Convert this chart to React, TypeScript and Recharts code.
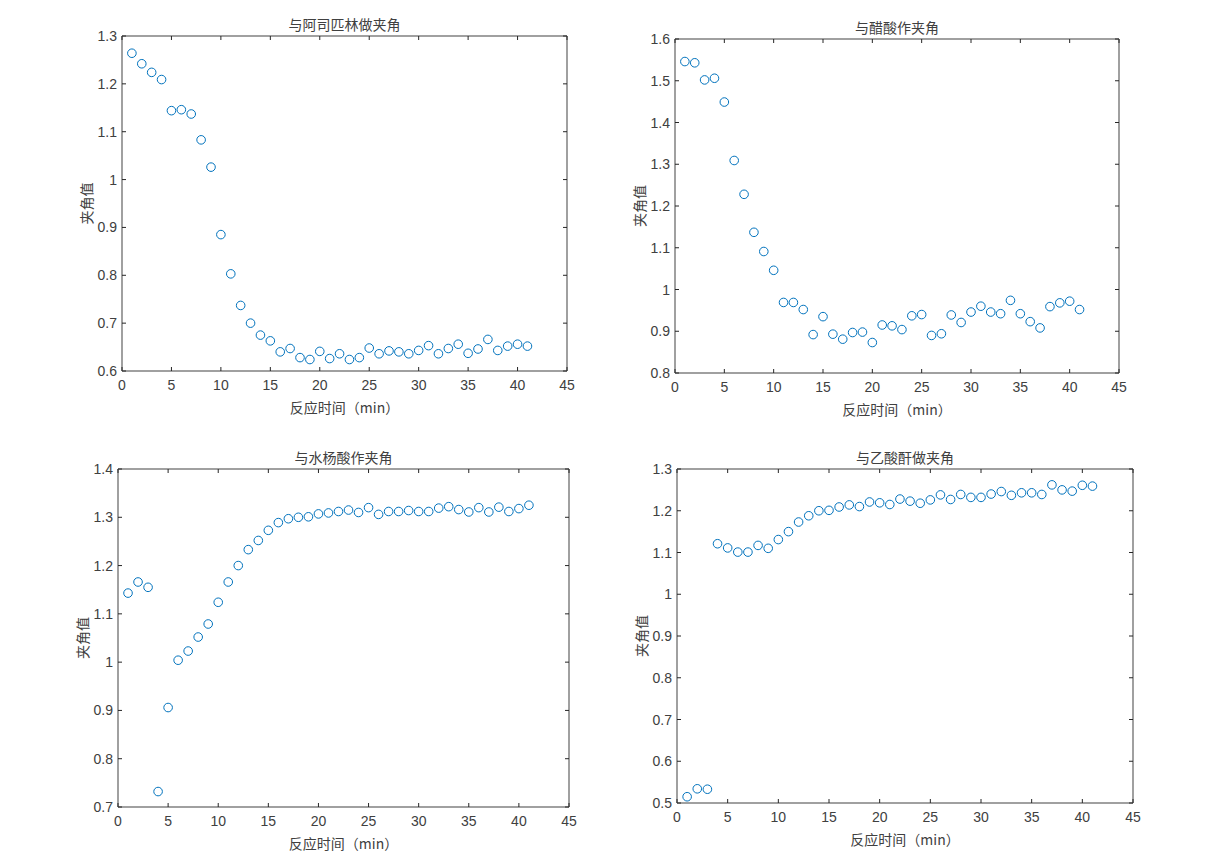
import { ScatterChart, Scatter, XAxis, YAxis, Label } from 'recharts';

const minutes = [1, 2, 3, 4, 5, 6, 7, 8, 9, 10, 11, 12, 13, 14, 15, 16, 17, 18, 19, 20, 21, 22, 23, 24, 25, 26, 27, 28, 29, 30, 31, 32, 33, 34, 35, 36, 37, 38, 39, 40, 41];
const xTicks = [0, 5, 10, 15, 20, 25, 30, 35, 40, 45];

// 与阿司匹林做夹角
const aspirin = [1.264, 1.242, 1.224, 1.209, 1.144, 1.146, 1.137, 1.083, 1.026, 0.885, 0.803, 0.737, 0.700, 0.675, 0.663, 0.640, 0.647, 0.628, 0.624, 0.641, 0.626, 0.636, 0.624, 0.628, 0.648, 0.636, 0.642, 0.640, 0.636, 0.643, 0.653, 0.636, 0.647, 0.656, 0.637, 0.646, 0.666, 0.643, 0.652, 0.656, 0.652];
const aspirinTicks = [0.6, 0.7, 0.8, 0.9, 1, 1.1, 1.2, 1.3];

// 与醋酸作夹角
const acetic = [1.546, 1.543, 1.502, 1.506, 1.449, 1.309, 1.228, 1.137, 1.091, 1.046, 0.969, 0.969, 0.952, 0.892, 0.935, 0.893, 0.881, 0.897, 0.898, 0.873, 0.915, 0.913, 0.904, 0.937, 0.940, 0.890, 0.894, 0.939, 0.921, 0.946, 0.960, 0.946, 0.942, 0.974, 0.942, 0.923, 0.908, 0.959, 0.968, 0.972, 0.952];
const aceticTicks = [0.8, 0.9, 1, 1.1, 1.2, 1.3, 1.4, 1.5, 1.6];

// 与水杨酸作夹角
const salicylic = [1.143, 1.166, 1.155, 0.732, 0.906, 1.004, 1.023, 1.052, 1.079, 1.124, 1.166, 1.200, 1.233, 1.252, 1.273, 1.289, 1.297, 1.300, 1.301, 1.307, 1.309, 1.312, 1.315, 1.310, 1.320, 1.306, 1.312, 1.312, 1.314, 1.312, 1.312, 1.319, 1.322, 1.316, 1.311, 1.320, 1.311, 1.321, 1.312, 1.318, 1.325];
const salicylicTicks = [0.7, 0.8, 0.9, 1, 1.1, 1.2, 1.3, 1.4];

// 与乙酸酐做夹角
const anhydride = [0.515, 0.534, 0.533, 1.121, 1.111, 1.101, 1.101, 1.117, 1.110, 1.131, 1.150, 1.173, 1.188, 1.200, 1.201, 1.209, 1.214, 1.210, 1.221, 1.219, 1.215, 1.228, 1.223, 1.218, 1.226, 1.238, 1.227, 1.239, 1.232, 1.232, 1.240, 1.246, 1.237, 1.243, 1.243, 1.239, 1.262, 1.250, 1.247, 1.261, 1.259];
const anhydrideTicks = [0.5, 0.6, 0.7, 0.8, 0.9, 1, 1.1, 1.2, 1.3];

const AXIS = '#808080';
const TICK = '#262626';
const TEXT = '#404040';
const NUM_FONT = '"Liberation Sans", Arial, sans-serif';
const CJK_FONT = '"Noto Sans CJK SC", sans-serif';
const MARKER = '#0072BD';

const ML = 70;
const MT = 30;
const MR = 10;
const MB = 50;

const BottomTick = (p: any) => (
  <g>
    <line x1={p.x} x2={p.x} y1={p.y} y2={p.y - 4} stroke={TICK} strokeWidth={1} />
    <text x={p.x} y={p.y + 19} textAnchor="middle" fill={TEXT} fontSize={14} fontFamily={NUM_FONT}>
      {p.payload.value}
    </text>
  </g>
);

const TopTick = (p: any) => (
  <line x1={p.x} x2={p.x} y1={p.y} y2={p.y + 4} stroke={TICK} strokeWidth={1} />
);

const LeftTick = (p: any) => (
  <g>
    <line x1={p.x} x2={p.x + 4} y1={p.y} y2={p.y} stroke={TICK} strokeWidth={1} />
    <text x={p.x - 5} y={p.y + 5} textAnchor="end" fill={TEXT} fontSize={14} fontFamily={NUM_FONT}>
      {String(p.payload.value)}
    </text>
  </g>
);

const RightTick = (p: any) => (
  <line x1={p.x} x2={p.x - 4} y1={p.y} y2={p.y} stroke={TICK} strokeWidth={1} />
);

interface PanelProps {
  left: number;
  top: number;
  plotW: number;
  plotH: number;
  title: string;
  values: number[];
  yTicks: number[];
}

function Panel({ left, top, plotW, plotH, title, values, yTicks }: PanelProps) {
  const data = minutes.map((m, i) => ({ x: m, y: values[i] }));
  const yDomain = [yTicks[0], yTicks[yTicks.length - 1]];

  return (
    <div style={{ position: 'absolute', left: left - ML, top: top - MT - 1 }}>
      <ScatterChart width={plotW + ML + MR + 1} height={plotH + MT + MB + 1} margin={{ top: MT, right: MR, left: 0, bottom: 0 }}>
        <XAxis
          xAxisId="b"
          type="number"
          dataKey="x"
          domain={[0, 45]}
          ticks={xTicks}
          height={MB}
          stroke={AXIS}
          strokeWidth={1.5}
          tickLine={false}
          tickSize={0}
          tickMargin={0}
          tick={BottomTick}
          interval={0}
        >
          <Label
            value="反应时间（min）"
            position="insideBottom"
            offset={8}
            fill={TEXT}
            fontSize={14}
            fontFamily={CJK_FONT}
          />
        </XAxis>
        <XAxis
          xAxisId="t"
          orientation="top"
          type="number"
          dataKey="x"
          domain={[0, 45]}
          ticks={xTicks}
          height={1}
          stroke={AXIS}
          strokeWidth={1.5}
          tickLine={false}
          tickSize={0}
          tickMargin={0}
          tick={TopTick}
          interval={0}
        >
          <Label
            value={title}
            position="top"
            offset={5}
            fill={TEXT}
            fontSize={14}
            fontWeight={400}
            fontFamily={CJK_FONT}
          />
        </XAxis>
        <YAxis
          yAxisId="l"
          type="number"
          dataKey="y"
          domain={yDomain}
          ticks={yTicks}
          width={ML}
          stroke={AXIS}
          strokeWidth={1.5}
          tickLine={false}
          tickSize={0}
          tickMargin={0}
          tick={LeftTick}
          interval={0}
          allowDataOverflow
        >
          <Label
            content={(lp: any) => {
              const vb = lp.viewBox;
              const cx = vb.x + vb.width - 36;
              const cy = vb.y + vb.height / 2;
              return (
                <text
                  x={cx}
                  y={cy}
                  transform={`rotate(-90, ${cx}, ${cy})`}
                  textAnchor="middle"
                  dominantBaseline="central"
                  fill={TEXT}
                  fontSize={14}
                  fontFamily={CJK_FONT}
                >
                  夹角值
                </text>
              );
            }}
          />
        </YAxis>
        <YAxis
          yAxisId="r"
          orientation="right"
          type="number"
          dataKey="y"
          domain={yDomain}
          ticks={yTicks}
          width={1}
          stroke={AXIS}
          strokeWidth={1.5}
          tickLine={false}
          tickSize={0}
          tickMargin={0}
          tick={RightTick}
          interval={0}
          allowDataOverflow
        />
        <Scatter
          xAxisId="t"
          yAxisId="r"
          data={data}
          isAnimationActive={false}
          shape={() => <g />}
        />
        <Scatter
          xAxisId="b"
          yAxisId="l"
          data={data}
          isAnimationActive={false}
          shape={(sp: any) => (
            <circle cx={sp.cx} cy={sp.cy} r={4.3} fill="none" stroke={MARKER} strokeWidth={1} />
          )}
        />
      </ScatterChart>
    </div>
  );
}

export default function App() {
  return (
    <div style={{ position: 'absolute', left: 0, top: 0, width: 1217, height: 854, background: '#fff', overflow: 'hidden' }}>
      <Panel left={122} top={36} plotW={445} plotH={335} title="与阿司匹林做夹角" values={aspirin} yTicks={aspirinTicks} />
      <Panel left={675} top={39} plotW={444} plotH={334} title="与醋酸作夹角" values={acetic} yTicks={aceticTicks} />
      <Panel left={118} top={469} plotW={451} plotH={338} title="与水杨酸作夹角" values={salicylic} yTicks={salicylicTicks} />
      <Panel left={677} top={469} plotW={456} plotH={334} title="与乙酸酐做夹角" values={anhydride} yTicks={anhydrideTicks} />
    </div>
  );
}
